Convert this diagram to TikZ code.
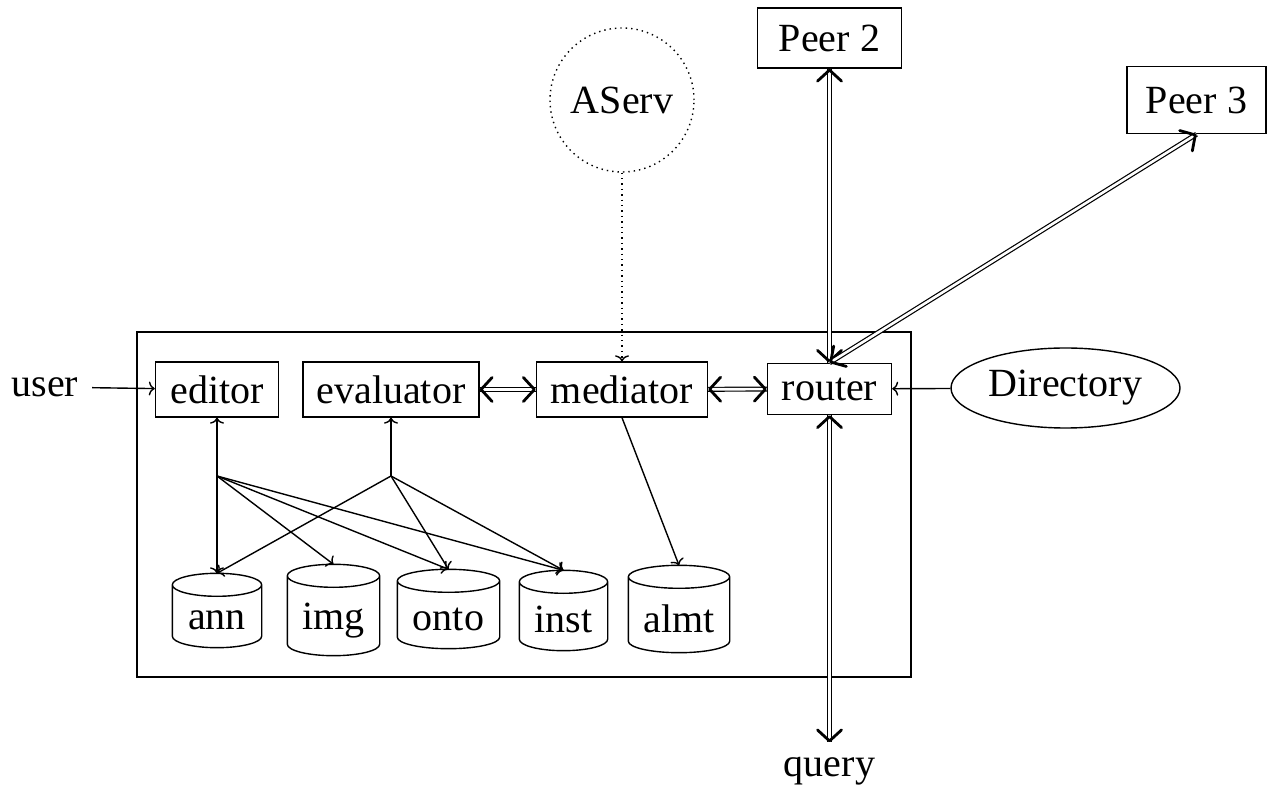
\documentclass[tikz,border=0pt]{standalone}
\usepackage{fontspec}
\setmainfont{Liberation Serif}
\usetikzlibrary{shapes.geometric,calc,arrows.meta}
\newcommand\cylout[1]{%
  \draw let \p1=(#1.north west), \p2=(#1.south east), \n1={(\x2-\x1)/2} in
    (\x1,\y1-5.75pt) -- (\x1,\y2+5.75pt)
    arc[start angle=180,end angle=360,x radius=\n1,y radius=5.75pt]
    -- (\x2,\y1-5.75pt)
    (\x1+\n1,\y1-5.75pt) ellipse[x radius=\n1,y radius=5.75pt];}
\begin{document}
\begin{tikzpicture}[x=0.5pt,y=-0.5pt, line width=0.7pt,
  >={To[length=3pt,width=7pt]},
  every node/.style={font=\fontsize{20}{24}\selectfont},
  box/.style={draw, rectangle, inner sep=0pt},
  dbbox/.style={rectangle, inner sep=0pt},
  bigtip/.tip={Straight Barb[length=5.5pt,width=12pt,line width'=1.4pt,round]},
  dbl/.style={tips, {bigtip}-{bigtip},
    preaction={draw, double, line width=0.6pt, double distance=1.3pt, arrows=-}},
]
\useasboundingbox (0,0) rectangle (1268,785);

% frame
\node[box, minimum width=387pt, minimum height=172.5pt] (frame) at (524,504.5) {};

% boxes
\node[box, minimum width=61.5pt, minimum height=27.5pt] (editor) at (217,389.5) {editor};
\node[box, minimum width=88pt, minimum height=27.5pt] (evaluator) at (391,389.5) {evaluator};
\node[box, minimum width=85.5pt, minimum height=27.5pt] (mediator) at (622,389.5) {mediator};
\node[box, minimum width=62pt, minimum height=25.5pt] (router) at (829.5,389) {router};
\node[box, minimum width=72pt, minimum height=30pt] (peer2) at (829.5,38) {Peer 2};
\node[box, minimum width=69.5pt, minimum height=33.5pt] (peer3) at (1196.5,100) {Peer 3};
\node[draw, ellipse, minimum width=114.5pt, minimum height=40pt, inner sep=0pt] (dir) at (1065.5,388) {Directory};
\node[draw, dotted, circle, minimum size=72pt, inner sep=0pt] (aserv) at (622,100) {AServ};
\node[inner sep=6.5pt] (user) at (45,387) {user};
\node[inner sep=7pt] (query) at (829.5,771) {query};

% databases
\node[dbbox, minimum width=44pt, minimum height=36.5pt] (ann) at (217,610.5) {};
\node[dbbox, minimum width=45.5pt, minimum height=45pt] (img) at (333.5,610) {};
\node[dbbox, minimum width=50.5pt, minimum height=39pt] (onto) at (448.5,609) {};
\node[dbbox, minimum width=43.5pt, minimum height=39.5pt] (inst) at (563.5,610.5) {};
\node[dbbox, minimum width=50pt, minimum height=43pt] (almt) at (679,609) {};
\foreach \c in {ann,img,onto,inst,almt} {\cylout{\c}}
\node[anchor=base, inner sep=0pt] (annt) at (217,629) {ann};
\node[anchor=base, inner sep=0pt] (imgt) at (333.5,629) {img};
\node[anchor=base, inner sep=0pt] (ontot) at (448.5,630) {onto};
\node[anchor=base, inner sep=0pt] (instt) at (563.5,632) {inst};
\node[anchor=base, inner sep=0pt] (almtt) at (679,632) {almt};

% junctions
\coordinate (ej) at (217,476);
\coordinate (vj) at (391,476);

% connectors
\draw[->] (user) -- (editor);
\draw[->] (ej) -- (editor.south);
\foreach \t in {ann,img,onto,inst} {\draw[->] (ej) -- (\t.north);}
\draw[->] (vj) -- (evaluator.south);
\foreach \t in {ann,onto,inst} {\draw[->] (vj) -- (\t.north);}
\draw[->] (mediator.south) -- (almt.north);
\draw[->, dotted] (aserv) -- (mediator);
\path[dbl] (evaluator) -- (mediator);
\path[dbl] (mediator) -- (router);
\path[dbl] (peer2) -- (router);
\path[dbl] (router.north) -- (peer3.south);
\path[dbl] (router) -- (query);
\draw[->] (dir) -- (router);
\end{tikzpicture}
\end{document}
